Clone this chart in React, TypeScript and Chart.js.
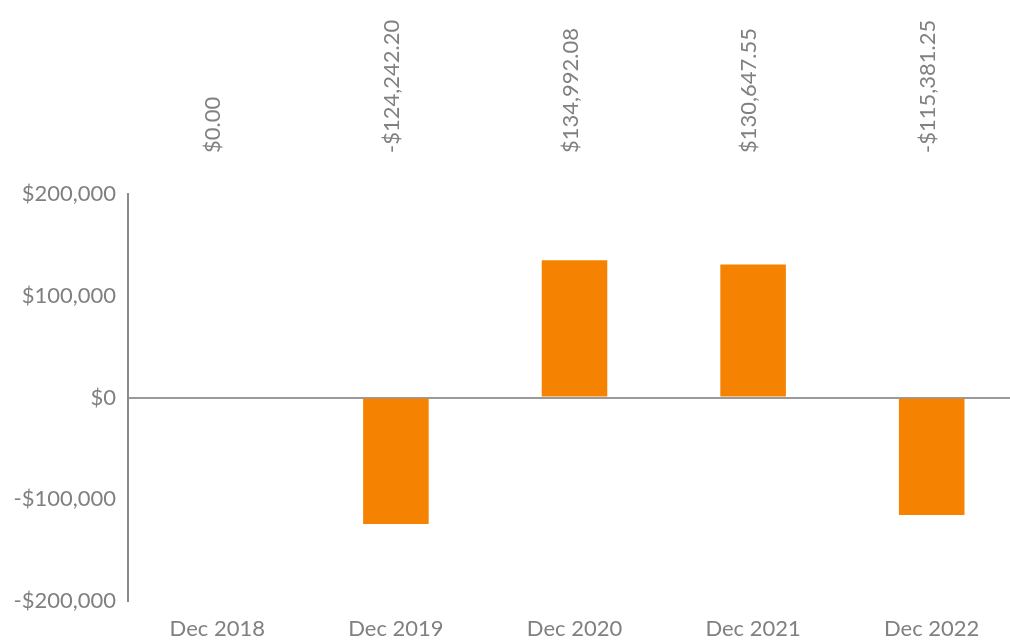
import React, { useEffect, useRef } from "react";
import { Chart, registerables } from "chart.js";

Chart.register(...registerables);

const categories = ["Dec 2018", "Dec 2019", "Dec 2020", "Dec 2021", "Dec 2022"];
const values = [0, -124242.2, 134992.08, 130647.55, -115381.25];
const valueLabels = ["$0.00", "-$124,242.20", "$134,992.08", "$130,647.55", "-$115,381.25"];
const yTicks = [-200000, -100000, 0, 100000, 200000];

const GRAY = "#808080";
const ORANGE = "#f58200";
const FONT = "Lato";
const WEIGHT = "400";

function fmtMoney(v: number): string {
  const s = "$" + Math.abs(v).toLocaleString("en-US");
  return v < 0 ? "-" + s : s;
}

const topLabels = {
  id: "topLabels",
  afterDraw(chart: any) {
    const ctx = chart.ctx;
    const meta = chart.getDatasetMeta(0);
    const area = chart.chartArea;
    ctx.save();
    ctx.fillStyle = GRAY;
    ctx.font = `${WEIGHT} 22px ${FONT}`;
    ctx.textAlign = "left";
    ctx.textBaseline = "middle";
    meta.data.forEach((bar: any, i: number) => {
      ctx.save();
      ctx.translate(bar.x - 4, area.top - 41);
      ctx.rotate(-Math.PI / 2);
      ctx.fillText(valueLabels[i], 0, 0);
      ctx.restore();
    });
    ctx.restore();
  },
};

export default function App() {
  const ref = useRef<HTMLCanvasElement | null>(null);
  useEffect(() => {
    if (!ref.current) return;
    const chart = new Chart(ref.current, {
      type: "bar",
      data: {
        labels: categories,
        datasets: [
          {
            data: values,
            backgroundColor: ORANGE,
            borderWidth: 0,
            categoryPercentage: 1,
            barPercentage: 0.367,
          },
        ],
      },
      plugins: [topLabels],
      options: {
        animation: false,
        responsive: false,
        maintainAspectRatio: false,
        layout: { padding: { top: 194, right: 3, left: 0, bottom: 0 } },
        plugins: { legend: { display: false }, tooltip: { enabled: false } },
        scales: {
          x: {
            grid: { display: false, drawTicks: false },
            border: { display: false },
            ticks: {
              color: GRAY,
              font: { family: FONT, size: 22, weight: WEIGHT as any },
              padding: 15,
              maxRotation: 0,
            },
            afterFit: (s: any) => {
              s.height = 41;
            },
          },
          y: {
            min: -200000,
            max: 200000,
            z: 1,
            afterBuildTicks: (s: any) => {
              s.ticks = yTicks.map((v) => ({ value: v }));
            },
            grid: {
              drawTicks: false,
              color: (c: any) => (c.tick && c.tick.value === 0 ? "#9a9a9a" : "rgba(0,0,0,0)"),
              lineWidth: 2,
            },
            border: { display: true, color: "#8a8a8a", width: 2 },
            ticks: {
              color: GRAY,
              font: { family: FONT, size: 22, weight: WEIGHT as any },
              padding: 12,
              callback: (v: any) => fmtMoney(Number(v)),
            },
            afterFit: (s: any) => {
              s.width = 128;
            },
          },
        },
      },
    });
    return () => chart.destroy();
  }, []);
  return (
    <div style={{ position: "absolute", left: 0, top: 0, width: 1010, height: 642, overflow: "hidden", background: "#fff" }}>
      <canvas ref={ref} width={1024} height={642} style={{ display: "block" }} />
    </div>
  );
}
